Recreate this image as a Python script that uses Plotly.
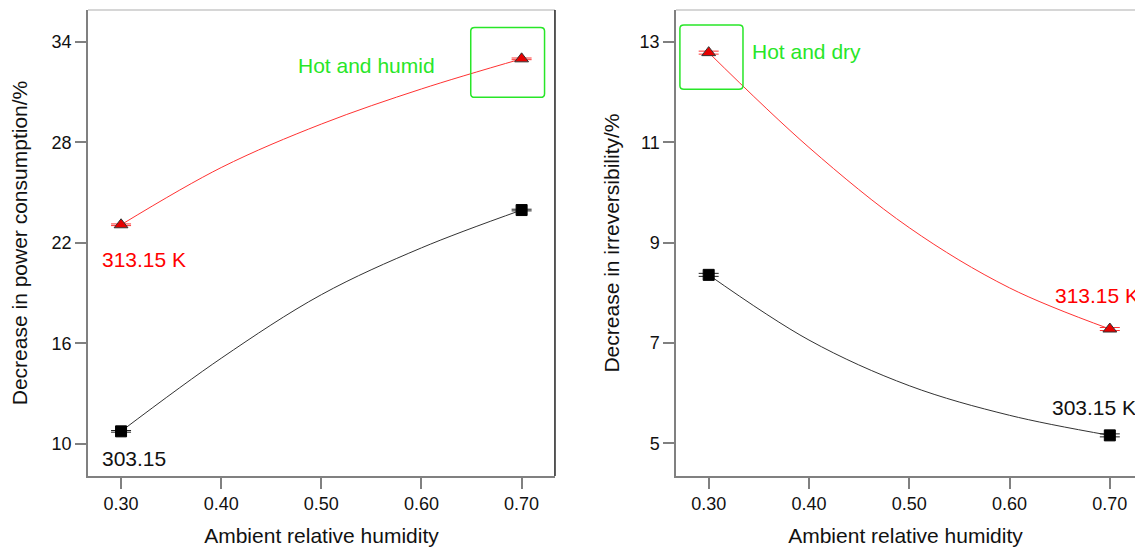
import plotly.graph_objects as go

# ---- data ----
humidity = [0.30, 0.70]
power_303 = [10.73, 23.96]
power_313 = [23.08, 33.00]
irr_303 = [8.36, 5.16]
irr_313 = [12.79, 7.28]

fit_x = [0.30, 0.40, 0.50, 0.60, 0.70]
power_303_fit = [10.73, 15.10, 18.90, 21.70, 23.96]
power_313_fit = [23.08, 26.50, 29.10, 31.20, 33.00]
irr_303_fit = [8.36, 7.06, 6.15, 5.56, 5.16]
irr_313_fit = [12.79, 10.90, 9.30, 8.10, 7.28]

err_left = [0.05, 0.05]
err_right = [0.03, 0.03]

x_ticks = [0.30, 0.40, 0.50, 0.60, 0.70]
y_ticks_left = [10, 16, 22, 28, 34]
y_ticks_right = [5, 7, 9, 11, 13]

RED = "rgb(255,50,50)"
GREEN = "rgb(40,230,40)"
AX = "#808080"
FONT = "Liberation Sans, Arial, Helvetica, sans-serif"

fig = go.Figure()

def add_panel(xa, ya, fit303, fit313, d303, d313, err):
    fig.add_trace(go.Scatter(x=fit_x, y=fit303, mode="lines", line=dict(color="#333333", width=1, shape="spline"),
                             xaxis=xa, yaxis=ya, showlegend=False, hoverinfo="skip"))
    fig.add_trace(go.Scatter(x=fit_x, y=fit313, mode="lines", line=dict(color=RED, width=1, shape="spline"),
                             xaxis=xa, yaxis=ya, showlegend=False, hoverinfo="skip"))
    fig.add_trace(go.Scatter(x=humidity, y=d303, mode="markers",
                             marker=dict(symbol="square", size=11, color="black", line=dict(color="black", width=1)),
                             error_y=dict(type="data", array=err, width=10, thickness=1, color="#222222"),
                             xaxis=xa, yaxis=ya, showlegend=False))
    fig.add_trace(go.Scatter(x=humidity, y=d313, mode="markers",
                             marker=dict(symbol="triangle-up", size=12, color="rgb(230,0,0)", line=dict(color="#333333", width=1)),
                             error_y=dict(type="data", array=err, width=10, thickness=1, color=RED),
                             xaxis=xa, yaxis=ya, showlegend=False))

add_panel("x", "y", power_303_fit, power_313_fit, power_303, power_313, err_left)
add_panel("x2", "y2", irr_303_fit, irr_313_fit, irr_303, irr_313, err_right)

axis_common = dict(showline=True, linecolor=AX, linewidth=1.5, ticks="outside", ticklen=11,
                   tickwidth=1.5, tickcolor=AX, showgrid=False, zeroline=False,
                   tickfont=dict(family=FONT, size=18, color="#111111"))

fig.update_layout(
    width=1135, height=547,
    margin=dict(l=88, r=0, t=10, b=71),
    plot_bgcolor="white", paper_bgcolor="white",
    font=dict(family=FONT, color="#111111"),
    xaxis=dict(domain=[0, 0.446], range=[0.267, 0.7333], tickvals=x_ticks, tickformat=".2f",
               title=dict(text="Ambient relative humidity", font=dict(size=21), standoff=16), anchor="y", **axis_common),
    yaxis=dict(domain=[0, 1], range=[8.06, 35.92], tickvals=y_ticks_left,
               title=dict(text="Decrease in power consumption/%", font=dict(size=21), standoff=18), anchor="x", **axis_common),
    xaxis2=dict(domain=[0.5616, 1], range=[0.2674, 0.7251], tickvals=x_ticks, tickformat=".2f",
                title=dict(text="Ambient relative humidity", font=dict(size=21), standoff=16), anchor="y2", **axis_common),
    yaxis2=dict(domain=[0, 1], range=[4.35, 13.64], tickvals=y_ticks_right,
                title=dict(text="Decrease in irreversibility/%", font=dict(size=21), standoff=14), anchor="x2", **axis_common),
)

# frame lines (top light gray, right dark on left panel)
fig.add_shape(type="line", xref="x domain", yref="y domain", x0=0, x1=1, y0=1, y1=1,
              line=dict(color="#c8c8c8", width=1.5))
fig.add_shape(type="line", xref="x domain", yref="y domain", x0=1, x1=1, y0=0, y1=1,
              line=dict(color="#222222", width=1.5))
fig.add_shape(type="line", xref="x2 domain", yref="y2 domain", x0=0, x1=1, y0=1, y1=1,
              line=dict(color="#c8c8c8", width=1.5))

def rounded_rect(xref, yref, x0, x1, y0, y1, rx, ry):
    path = (f"M {x0+rx},{y0} L {x1-rx},{y0} Q {x1},{y0} {x1},{y0-ry} "
            f"L {x1},{y1+ry} Q {x1},{y1} {x1-rx},{y1} "
            f"L {x0+rx},{y1} Q {x0},{y1} {x0},{y1+ry} "
            f"L {x0},{y0-ry} Q {x0},{y0} {x0+rx},{y0} Z")
    fig.add_shape(type="path", xref=xref, yref=yref, path=path, line=dict(color=GREEN, width=1.5))

rounded_rect("x", "y", 0.6492, 0.7229, 34.88, 30.70, 0.004, 0.22)
rounded_rect("x2", "y2", 0.2713, 0.3342, 13.34, 12.06, 0.004, 0.07)

ann = [
    dict(xref="x", yref="y", x=0.5455, y=32.58, text="Hot and humid", color=GREEN, xanchor="center"),
    dict(xref="x", yref="y", x=0.279, y=21.0, text="313.15 K", color="rgb(255,0,0)", xanchor="left"),
    dict(xref="x", yref="y", x=0.279, y=9.09, text="303.15", color="#111111", xanchor="left"),
    dict(xref="x2", yref="y2", x=0.3412, y=12.81, text="Hot and dry", color=GREEN, xanchor="left"),
    dict(xref="x2", yref="y2", x=0.6433, y=7.94, text="313.15 K", color="rgb(255,0,0)", xanchor="left"),
    dict(xref="x2", yref="y2", x=0.6408, y=5.71, text="303.15 K", color="#111111", xanchor="left"),
]
for a in ann:
    fig.add_annotation(xref=a["xref"], yref=a["yref"], x=a["x"], y=a["y"], text=a["text"], showarrow=False,
                       xanchor=a["xanchor"], yanchor="middle",
                       font=dict(family=FONT, size=21, color=a["color"]))

fig.write_html("out.html")
